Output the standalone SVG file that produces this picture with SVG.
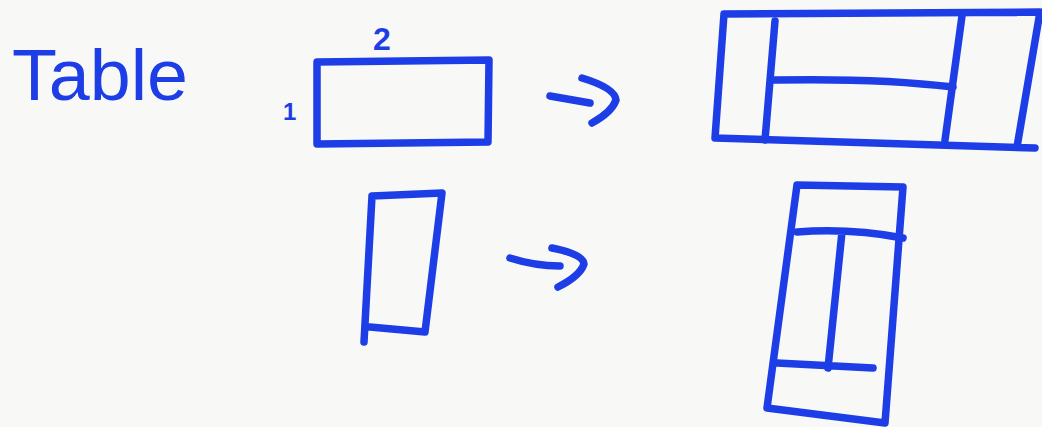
<svg xmlns="http://www.w3.org/2000/svg" width="1042" height="427" viewBox="0 0 1042 427">
<style>
.ink{fill:none;stroke:#1d3ee6;stroke-width:7.5;stroke-linecap:round;stroke-linejoin:round}
.lbl{fill:#1d3ee6;font-family:"Liberation Sans",Arial,sans-serif}
</style>
<rect width="1042" height="427" fill="#f8f8f6"/>
<g id="title">
<text class="lbl" x="12" y="100" font-size="72" textLength="176" lengthAdjust="spacingAndGlyphs">Table</text>
</g>
<g id="wide-input">
<path class="ink" d="M317,62 L489,60 L488,142 L317,144 Z"/>
<text class="lbl" x="373" y="50" font-size="32" font-weight="bold">2</text>
<text class="lbl" x="283" y="120" font-size="24" font-weight="bold">1</text>
</g>
<g id="wide-table">
<path class="ink" d="M724,14 L1040,12 L1017,147 M715,138 L1035,148 M724,14 L715,138"/>
<path class="ink" d="M775,21 L765,140 M962,16 L945,140 M775,80 Q880,78 953,87"/>
</g>
<g id="tall-input">
<path class="ink" d="M372,196 L442,193 L425,332 L370,327 M372,196 L364,342"/>
</g>
<g id="tall-table">
<path class="ink" d="M797,185 L903,187 L885,423 L767,408 Z"/>
<path class="ink" d="M797,232 Q850,228 903,238 M842,232 L828,368 M777,363 L873,368"/>
</g>
<g id="connectors">
<path class="ink" d="M550,96 L590,103 M582,78 Q615,88 616,100 Q612,112 592,123"/>
<path class="ink" d="M510,258 Q535,266 560,266 M552,248 Q583,254 584,264 Q580,276 558,287"/>
</g>
</svg>
